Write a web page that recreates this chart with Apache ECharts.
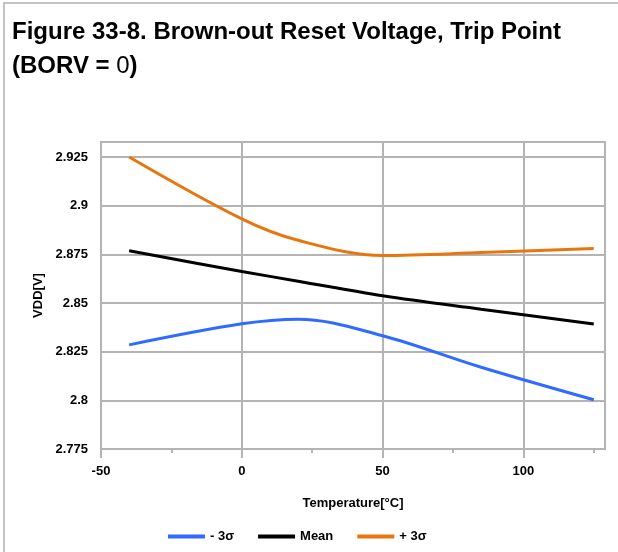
<!DOCTYPE html>
<html>
<head>
<meta charset="utf-8">
<script src="https://cdn.jsdelivr.net/npm/echarts@6/dist/echarts.min.js"></script>
<style>
  html, body { margin: 0; padding: 0; background: #fff; }
  #main { width: 618px; height: 552px; }
</style>
</head>
<body>
<div id="main"></div>
<script>
// data
var temps = [-40, 0, 20, 50, 85, 125];
var minus3 = [2.8285, 2.8393, 2.8417, 2.8332, 2.8170, 2.8003];
var mean = [2.8768, 2.8662, 2.8612, 2.8537, 2.8468, 2.8392];
var plus3 = [2.9250, 2.8932, 2.8822, 2.8744, 2.8759, 2.8780];
var seriesNames = ['- 3σ', 'Mean', '+ 3σ'];
var xLabelTicks = [-50, 0, 50, 100];
var xMinorTicks = [-25, 25, 75, 125];

function pairs(vals) {
    return temps.map(function (t, i) { return [t, vals[i]]; });
}

var gridColor = '#b4b4b4';
var fontFam = '"Liberation Sans", Arial, sans-serif';
var txt = { fontFamily: fontFam, fontWeight: 'bold', fontSize: 13, color: '#000' };

var myChart = echarts.init(document.getElementById('main'));
var option = {
    animation: false,
    backgroundColor: '#fff',
    title: {
        left: 12,
        top: 15,
        padding: 0,
        text: '{b|Figure 33-8. Brown-out Reset Voltage, Trip Point}\n{b|(BORV = }{n|0}{b|)}',
        textStyle: {
            rich: {
                b: { fontFamily: fontFam, fontWeight: 'bold', fontSize: 24, color: '#000', lineHeight: 34 },
                n: { fontFamily: fontFam, fontWeight: 'normal', fontSize: 24, color: '#000', lineHeight: 34 }
            }
        }
    },
    graphic: [
        { type: 'line', shape: { x1: 3, y1: 3, x2: 618, y2: 3 }, style: { stroke: '#c4c4c4', lineWidth: 2 } },
        { type: 'line', shape: { x1: 4, y1: 3, x2: 4, y2: 552 }, style: { stroke: '#c4c4c4', lineWidth: 2 } }
    ],
    legend: {
        left: 163,
        top: 525,
        itemWidth: 37,
        itemHeight: 4,
        itemGap: 24,
        icon: 'rect',
        textStyle: txt,
        data: seriesNames
    },
    grid: {
        left: 101, right: 13, top: 142, bottom: 103,
        show: true,
        borderColor: gridColor,
        borderWidth: 2
    },
    xAxis: [
        {
            type: 'value',
            min: -50,
            max: 129,
            interval: 50,
            name: 'Temperature[°C]',
            nameLocation: 'middle',
            nameGap: 48,
            nameTextStyle: txt,
            axisLine: { show: true, lineStyle: { color: gridColor, width: 2 } },
            axisTick: { show: true, length: 9, customValues: xLabelTicks, lineStyle: { color: gridColor, width: 2 } },
            axisLabel: Object.assign({ customValues: xLabelTicks, margin: 16 }, txt),
            splitLine: { show: true, lineStyle: { color: gridColor, width: 2 } }
        },
        {
            type: 'value',
            position: 'bottom',
            min: -50,
            max: 129,
            axisLine: { show: false },
            axisTick: { show: true, length: 4, customValues: xMinorTicks, lineStyle: { color: gridColor, width: 2 } },
            axisLabel: { show: false },
            splitLine: { show: false }
        }
    ],
    yAxis: {
        type: 'value',
        min: 2.775,
        max: 2.9327,
        interval: 0.025,
        name: 'VDD[V]',
        nameLocation: 'middle',
        nameGap: 56,
        nameTextStyle: txt,
        axisLine: { show: true, lineStyle: { color: gridColor, width: 2 } },
        axisTick: { show: true, length: 9, lineStyle: { color: gridColor, width: 2 } },
        axisLabel: Object.assign({
            showMaxLabel: false,
            margin: 13,
            formatter: function (v) { return String(+v.toFixed(3)); }
        }, txt),
        splitLine: { show: true, lineStyle: { color: gridColor, width: 2 } }
    },
    series: [
        {
            name: seriesNames[0], type: 'line', smooth: 0.35, showSymbol: false,
            data: pairs(minus3),
            lineStyle: { color: '#2f6bff', width: 3 }, itemStyle: { color: '#2f6bff' }
        },
        {
            name: seriesNames[1], type: 'line', smooth: 0.35, showSymbol: false,
            data: pairs(mean),
            lineStyle: { color: '#000000', width: 3 }, itemStyle: { color: '#000000' }
        },
        {
            name: seriesNames[2], type: 'line', smooth: 0.35, showSymbol: false,
            data: pairs(plus3),
            lineStyle: { color: '#e8760d', width: 3 }, itemStyle: { color: '#e8760d' }
        }
    ]
};
myChart.setOption(option);
</script>
</body>
</html>
